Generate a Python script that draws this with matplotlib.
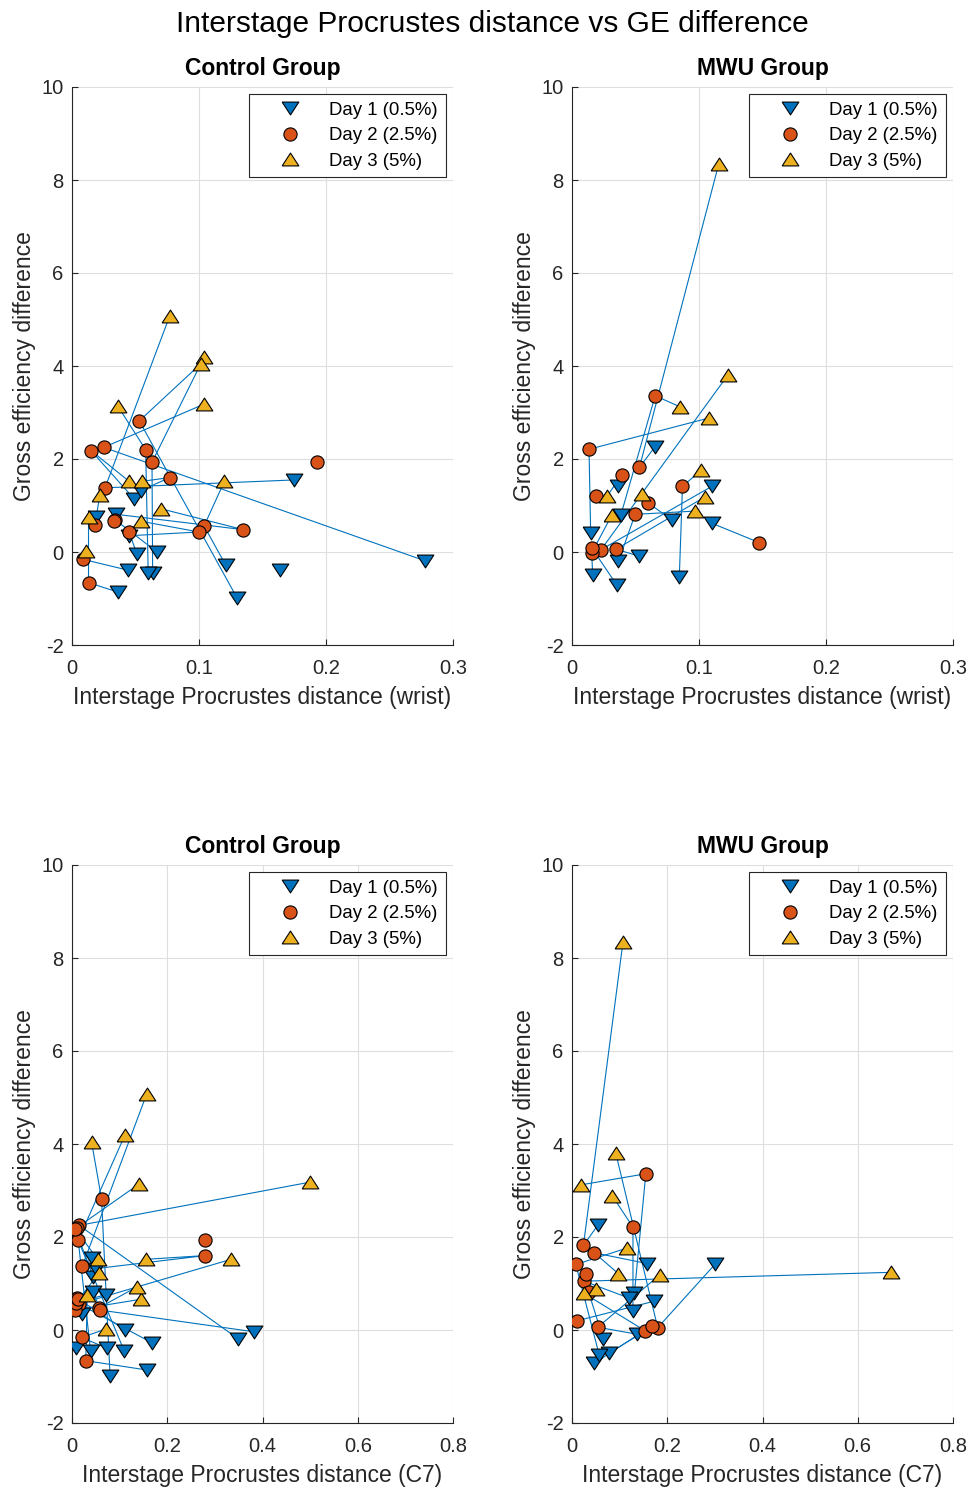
import numpy as np
import matplotlib
matplotlib.use('Agg')
import matplotlib.pyplot as plt
from matplotlib.lines import Line2D

plt.rcParams['font.family'] = ['Liberation Sans', 'DejaVu Sans']
plt.rcParams['axes.unicode_minus'] = False

nan = np.nan

# ── Control group (one entry per subject) ─────────────────────────────
ctrl_ge_d1 = [-0.19, 1.55, -0.28, -0.46, -0.38, nan, -0.99, -0.45, 0.35, 0.81, 1.14, 1.32, -0.39, -0.86, 0.76, 0.00, -0.04, nan]
ctrl_ge_d2 = [2.25, 1.38, 0.56, 1.93, nan, 1.93, 2.82, 2.20, 0.43, 0.48, 2.18, 1.60, -0.16, -0.66, 0.59, 0.69, 0.43, 0.66]
ctrl_ge_d3 = [3.18, 5.08, 1.52, 4.19, nan, nan, 4.05, 3.14, 0.66, 0.93, 1.52, 1.52, 0.02, 0.75, 1.23, nan, nan, nan]

ctrl_wrist_d1 = [0.278, 0.175, 0.121, 0.0635, 0.164, nan, 0.130, 0.060, 0.045, 0.035, 0.049, 0.054, 0.044, 0.036, 0.019, 0.067, 0.051, nan]
ctrl_wrist_d2 = [0.025, 0.026, 0.104, 0.063, nan, 0.193, 0.053, 0.058, 0.100, 0.135, 0.015, 0.077, 0.009, 0.013, 0.018, 0.034, 0.045, 0.033]
ctrl_wrist_d3 = [0.104, 0.077, 0.120, 0.104, nan, nan, 0.1015, 0.036, 0.0546, 0.070, 0.045, 0.055, 0.011, 0.013, 0.022, nan, nan, nan]

ctrl_c7_d1 = [0.349, 0.043, 0.169, 0.110, 0.008, nan, 0.080, 0.039, 0.020, 0.045, 0.045, 0.050, 0.073, 0.157, 0.071, 0.111, 0.383, nan]
ctrl_c7_d2 = [0.015, 0.022, 0.015, 0.013, nan, 0.279, 0.062, 0.010, 0.006, 0.057, 0.006, 0.279, 0.020, 0.029, 0.009, 0.010, 0.058, 0.012]
ctrl_c7_d3 = [0.500, 0.157, 0.334, 0.111, nan, nan, 0.041, 0.141, 0.144, 0.137, 0.054, 0.155, 0.071, 0.032, 0.057, nan, nan, nan]

# ── MWU group ────────────────────────────────────────────────────────
mwu_ge_d1 = [0.79, 2.25, 0.41, 1.41, 0.62, 1.43, 0.69, -0.09, -0.20, -0.50, -0.71, -0.53, nan]
mwu_ge_d2 = [3.36, 1.82, 2.21, 0.05, 0.20, 1.66, 1.05, 0.06, 0.81, -0.02, 0.09, 1.41, 1.21]
mwu_ge_d3 = [3.12, 8.34, 2.88, 3.80, nan, 1.21, 1.24, 1.19, 0.88, 0.79, nan, 1.76, nan]

mwu_wrist_d1 = [0.0384, 0.065, 0.0147, 0.110, 0.110, 0.0366, 0.0787, 0.0529, 0.0366, 0.0163, 0.0353, 0.0845, nan]
mwu_wrist_d2 = [0.0655, 0.0531, 0.0134, 0.0229, 0.1476, 0.0392, 0.0602, 0.0347, 0.0497, 0.0155, 0.0155, 0.087, 0.019]
mwu_wrist_d3 = [0.0852, 0.1155, 0.1076, 0.1226, nan, 0.0279, 0.055, 0.105, 0.097, 0.0313, nan, 0.1016, nan]

mwu_c7_d1 = [0.131, 0.054, 0.128, 0.300, 0.173, 0.157, 0.119, 0.136, 0.066, 0.077, 0.047, 0.057, nan]
mwu_c7_d2 = [0.155, 0.024, 0.128, 0.180, 0.011, 0.047, 0.025, 0.054, 0.035, 0.154, 0.168, 0.008, 0.029]
mwu_c7_d3 = [0.018, 0.107, 0.085, 0.092, nan, 0.0975, 0.669, 0.185, 0.051, 0.025, nan, 0.115, nan]

DAY_LABELS = ['Day 1 (0.5%)', 'Day 2 (2.5%)', 'Day 3 (5%)']

BLUE   = '#0072BD'
ORANGE = '#D95319'
YELLOW = '#EDB120'
TXT    = '#262626'

# MATLAB-like flat triangles
TRI_DOWN = [(-1, 0.77), (1, 0.77), (0, -0.77), (-1, 0.77)]
TRI_UP   = [(-1, -0.77), (1, -0.77), (0, 0.77), (-1, -0.77)]
STYLES = [(TRI_DOWN, BLUE, 12), ('o', ORANGE, 9.5), (TRI_UP, YELLOW, 12)]


def panel(ax, xs, ys, title, xlabel, xmax, xticks):
    x1, x2, x3 = [np.array(v, float) for v in xs]
    y1, y2, y3 = [np.array(v, float) for v in ys]
    for i in range(len(y2)):
        ax.plot([x1[i], x2[i], x3[i]], [y1[i], y2[i], y3[i]],
                color=BLUE, lw=0.8, zorder=2)
    handles = []
    for (mk, col, ms), x, y, lab in zip(STYLES, (x1, x2, x3), (y1, y2, y3), DAY_LABELS):
        ax.plot(x, y, ls='none', marker=mk, ms=ms, mfc=col, mec='black',
                mew=0.8, zorder=3)
        handles.append(Line2D([], [], ls='none', marker=mk, ms=ms, mfc=col,
                              mec='black', mew=0.8, label=lab))

    ax.set_xlim(0, xmax)
    ax.set_ylim(-2, 10)
    ax.set_xticks(xticks)
    ax.set_xticklabels([f'{t:g}' for t in xticks])
    ax.set_yticks(range(-2, 11, 2))
    ax.grid(True, color='#dedede', lw=0.8)
    ax.set_axisbelow(True)
    for s in ('top', 'right'):
        ax.spines[s].set_visible(False)
    for s in ('left', 'bottom'):
        ax.spines[s].set_color(TXT)
        ax.spines[s].set_linewidth(0.8)
    ax.tick_params(direction='in', length=4, width=0.8, colors=TXT,
                   labelsize=14.5)
    ax.tick_params(axis='x', pad=10)
    ax.tick_params(axis='y', pad=6)
    ax.set_title(title, fontsize=16.5, fontweight='bold', color='black', pad=9)
    ax.set_xlabel(xlabel, fontsize=16.5, color=TXT, labelpad=6)
    ax.set_ylabel('Gross efficiency difference', fontsize=16.5, color=TXT,
                  labelpad=4)
    leg = ax.legend(handles=handles, loc='upper right', fontsize=13.4,
                    frameon=True, fancybox=False, framealpha=1,
                    edgecolor=TXT, borderpad=0.4, borderaxespad=0.4,
                    handlelength=3.6, handletextpad=0.3, labelspacing=0.45)
    leg.get_frame().set_linewidth(0.8)


W, H = 971, 1491
fig = plt.figure(figsize=(W / 100, H / 100), dpi=100, facecolor='white')

ax_w, ax_h = 381 / W, 558 / H
left_l, left_r = 72 / W, 572 / W
bot_t, bot_b = 1 - 645 / H, 1 - 1423 / H

ax_tl = fig.add_axes([left_l, bot_t, ax_w, ax_h])
ax_tr = fig.add_axes([left_r, bot_t, ax_w, ax_h])
ax_bl = fig.add_axes([left_l, bot_b, ax_w, ax_h])
ax_br = fig.add_axes([left_r, bot_b, ax_w, ax_h])

wrist_ticks = [0, 0.1, 0.2, 0.3]
c7_ticks = [0, 0.2, 0.4, 0.6, 0.8]

panel(ax_tl, (ctrl_wrist_d1, ctrl_wrist_d2, ctrl_wrist_d3),
      (ctrl_ge_d1, ctrl_ge_d2, ctrl_ge_d3), 'Control Group',
      'Interstage Procrustes distance (wrist)', 0.3, wrist_ticks)
panel(ax_tr, (mwu_wrist_d1, mwu_wrist_d2, mwu_wrist_d3),
      (mwu_ge_d1, mwu_ge_d2, mwu_ge_d3), 'MWU Group',
      'Interstage Procrustes distance (wrist)', 0.3, wrist_ticks)
panel(ax_bl, (ctrl_c7_d1, ctrl_c7_d2, ctrl_c7_d3),
      (ctrl_ge_d1, ctrl_ge_d2, ctrl_ge_d3), 'Control Group',
      'Interstage Procrustes distance (C7)', 0.8, c7_ticks)
panel(ax_br, (mwu_c7_d1, mwu_c7_d2, mwu_c7_d3),
      (mwu_ge_d1, mwu_ge_d2, mwu_ge_d3), 'MWU Group',
      'Interstage Procrustes distance (C7)', 0.8, c7_ticks)

fig.suptitle('Interstage Procrustes distance vs GE difference',
             fontsize=21.5, color='black', x=492 / W, y=1 - 24 / H,
             va='center')

fig.savefig('out.png', dpi=100, facecolor='white')
